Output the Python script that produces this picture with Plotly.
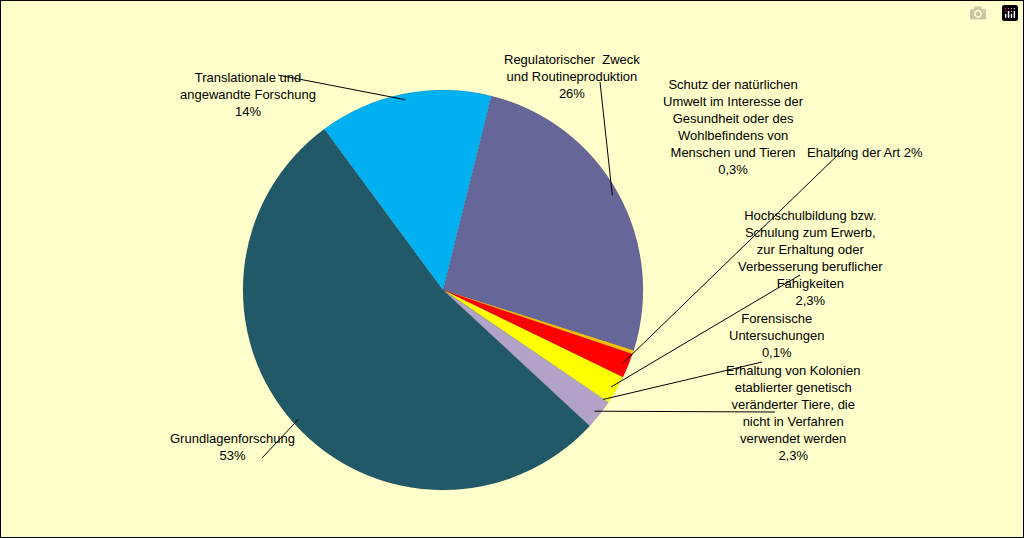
import math
import plotly.graph_objects as go

labels = ["Regulatorischer  Zweck<br>und Routineproduktion<br>26%",
          "Schutz der natürlichen<br>Umwelt im Interesse der<br>Gesundheit oder des<br>Wohlbefindens von<br>Menschen und Tieren<br>0,3%",
          "Ehaltung der Art 2%",
          "Hochschulbildung bzw.<br>Schulung zum Erwerb,<br>zur Erhaltung oder<br>Verbesserung beruflicher<br>Fähigkeiten<br>2,3%",
          "Forensische<br>Untersuchungen<br>0,1%",
          "Erhaltung von Kolonien<br>etablierter genetisch<br>veränderter Tiere, die<br>nicht in Verfahren<br>verwendet werden<br>2,3%",
          "Grundlagenforschung<br>53%",
          "Translationale und<br>angewandte Forschung<br>14%"]
values = [26, 0.3, 2, 2.3, 0.1, 2.3, 53, 14]
colors = ["#666699", "#FFC000", "#FF0000", "#FFFF00", "#C0C0C0", "#B3A2C7", "#215968", "#00B0F0"]
label_pos = [(572, 50), (806, 75), (925, 143), (885, 258), (826, 362), (862, 465), (168, 465), (178, 68)]
line_start = [(600, 82), (0, 0), (845, 148), (800, 275), (762, 362), (775, 412), (262, 458), (278, 75)]

W, H = 1024, 538
cx, cy, r = 443, 290, 200
rotation = 14

fig = go.Figure(go.Pie(values=values, marker=dict(colors=colors, line=dict(color="rgba(0,0,0,0.2)", width=0.5)),
                       sort=False, direction="clockwise", rotation=rotation, textinfo="none",
                       hoverinfo="none", showlegend=False,
                       domain=dict(x=[(cx - r) / W, (cx + r) / W], y=[(H - cy - r) / H, (H - cy + r) / H])))

total = sum(values)
cum = 0
for i, v in enumerate(values):
    mid = rotation + (cum + v / 2) / total * 360
    cum += v
    ex = cx + r * 0.97 * math.sin(math.radians(mid))
    ey = cy - r * 0.97 * math.cos(math.radians(mid))
    lx, ly = label_pos[i]
    fig.add_annotation(x=lx / W, y=1 - ly / H, xref="paper", yref="paper", text=labels[i],
                       showarrow=False, font=dict(family="Liberation Sans", size=13, color="black"),
                       align="center")
    if i != 1:
        sx, sy = line_start[i]
        fig.add_shape(type="line", xref="paper", yref="paper", x0=sx / W, y0=1 - sy / H,
                      x1=ex / W, y1=1 - ey / H, line=dict(color="black", width=1))

fig.add_shape(type="rect", xref="paper", yref="paper", x0=0, y0=0, x1=1, y1=1,
              line=dict(color="black", width=2))
fig.update_layout(width=W, height=H, margin=dict(l=0, r=0, t=0, b=0),
                  paper_bgcolor="#FFFFCC", plot_bgcolor="#FFFFCC")
fig.write_html("out.html", post_script="document.body.style.margin='0';document.body.style.padding='0';")
